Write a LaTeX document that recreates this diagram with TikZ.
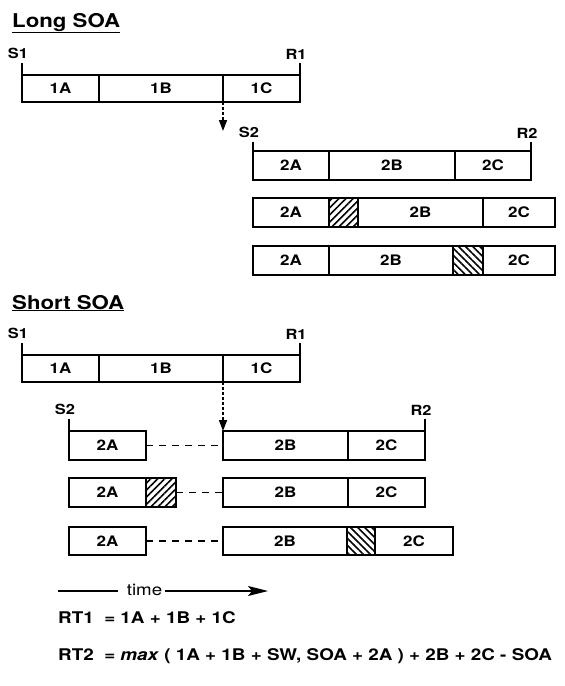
\documentclass[tikz,border=0pt]{standalone}
\usepackage{fontspec}
\setmainfont{TeX Gyre Heros}[FakeStretch=1.17]
\usetikzlibrary{positioning,arrows.meta,patterns.meta}

\tikzset{
  seg/.style={draw, rectangle, line width=1.8pt, inner sep=0pt, outer sep=0pt,
    minimum height=29pt, font=\fontsize{14.5}{16}\selectfont\bfseries},
  hatchup/.style={seg, pattern={Lines[angle=45,distance=5pt,line width=1.6pt]}},
  hatchdown/.style={seg, pattern={Lines[angle=-45,distance=5pt,line width=1.6pt]}},
  tickline/.style={line width=1.8pt},
  eventlabel/.style={above=3pt, xshift=-4pt, inner sep=0pt, font=\fontsize{14}{16}\selectfont\bfseries},
  headline/.style={anchor=base west, inner sep=0pt, font=\fontsize{19}{22}\selectfont\bfseries},
  waitline/.style={line width=1.6pt, dash pattern=on 7pt off 6pt},
  shiftarrow/.style={line width=1.6pt, dash pattern=on 3pt off 2pt, -{Triangle[length=11pt,width=8pt]}},
  formula/.style={anchor=base west, inner sep=0pt, font=\fontsize{16.1}{18}\selectfont\bfseries}
}

\begin{document}
\begin{tikzpicture}[x=1pt,y=-1pt]
  \useasboundingbox (0,0) rectangle (565,686);

  % long SOA
  \node[headline] (longsoa) at (12,27) {\underline{Long SOA}};
  \node[seg, anchor=west, minimum width=77pt, minimum height=27pt] (la1) at (22,88.5) {1A};
  \node[seg, right=0pt of la1, minimum width=124pt, minimum height=27pt] (la2) {1B};
  \node[seg, right=0pt of la2, minimum width=77pt, minimum height=27pt] (la3) {1C};
  \draw[tickline] (la1.north west) -- ++(0,-12) node[eventlabel] (ls1) {S1};
  \draw[tickline] (la3.north east) -- ++(0,-12) node[eventlabel] (lr1) {R1};

  \node[seg, anchor=west, minimum width=76pt] (lb1) at (253,165.5) {2A};
  \node[seg, right=0pt of lb1, minimum width=126pt] (lb2) {2B};
  \node[seg, right=0pt of lb2, minimum width=76pt] (lb3) {2C};
  \draw[tickline] (lb1.north west) -- ++(0,-9) node[eventlabel] (ls2) {S2};
  \draw[tickline] (lb3.north east) -- ++(0,-9) node[eventlabel] (lr2) {R2};

  \node[seg, anchor=west, minimum width=76pt] (lc1) at (253,212.5) {2A};
  \node[hatchup, right=0pt of lc1, minimum width=29pt] (lcsw) {};
  \node[seg, right=0pt of lcsw, minimum width=125pt] (lc2) {2B};
  \node[seg, right=0pt of lc2, minimum width=72pt] (lc3) {2C};

  \node[seg, anchor=west, minimum width=76pt] (ld1) at (253,260.5) {2A};
  \node[seg, right=0pt of ld1, minimum width=124pt] (ld2) {2B};
  \node[hatchdown, right=0pt of ld2, minimum width=30pt] (ldsw) {};
  \node[seg, right=0pt of ldsw, minimum width=72pt] (ld3) {2C};

  \coordinate (lend) at (223,131);
  \draw[shiftarrow] (la3.south west) -- (lend);

  % short SOA
  \node[headline] (shortsoa) at (12,309) {\underline{Short SOA}};
  \node[seg, anchor=west, minimum width=77pt, minimum height=27pt] (sa1) at (22,368.5) {1A};
  \node[seg, right=0pt of sa1, minimum width=124pt, minimum height=27pt] (sa2) {1B};
  \node[seg, right=0pt of sa2, minimum width=77pt, minimum height=27pt] (sa3) {1C};
  \draw[tickline] (sa1.north west) -- ++(0,-12) node[eventlabel] (ss1) {S1};
  \draw[tickline] (sa3.north east) -- ++(0,-12) node[eventlabel] (sr1) {R1};

  \node[seg, anchor=west, minimum width=77pt] (sb1) at (69,445.5) {2A};
  \node[seg, anchor=west, minimum width=125pt] (sb2) at (223,445.5) {2B};
  \node[seg, right=0pt of sb2, minimum width=77pt] (sb3) {2C};
  \draw[tickline] (sb1.north west) -- ++(0,-12) node[eventlabel] (ss2) {S2};
  \draw[tickline] (sb3.north east) -- ++(0,-12) node[eventlabel] (sr2) {R2};
  \draw[waitline] (sb1.east) -- (sb2.west);
  \draw[shiftarrow] (sa3.south west) -- (sb2.north west);

  \node[seg, anchor=west, minimum width=77pt] (sc1) at (69,492.5) {2A};
  \node[hatchup, right=0pt of sc1, minimum width=30pt] (scsw) {};
  \node[seg, anchor=west, minimum width=125pt] (sc2) at (223,492.5) {2B};
  \node[seg, right=0pt of sc2, minimum width=77pt] (sc3) {2C};
  \draw[waitline] (scsw.east) -- (sc2.west);

  \node[seg, anchor=west, minimum width=77pt, minimum height=28pt] (sd1) at (69,541) {2A};
  \node[seg, anchor=west, minimum width=124pt, minimum height=28pt] (sd2) at (223,541) {2B};
  \node[hatchdown, right=0pt of sd2, minimum width=28pt, minimum height=28pt] (sdsw) {};
  \node[seg, right=0pt of sdsw, minimum width=78pt, minimum height=28pt] (sd3) {2C};
  \draw[waitline] (sd1.east) -- (sd2.west);

  % time axis
  \node[font=\fontsize{16}{18}\selectfont, inner sep=0pt] (time) at (144.5,590) {time};
  \coordinate (tstart) at (58,591);
  \coordinate (tend) at (268,591);
  \draw[line width=1.4pt] (tstart) -- ([xshift=-9pt]time.west |- tstart);
  \draw[line width=1.4pt, -{Stealth[length=20pt,width=10pt,inset=4pt]}] ([xshift=3pt]time.east |- tend) -- (tend);

  % response times
  \node[formula] (rt1) at (58,623.5) {RT1\ \ = 1A + 1B + 1C};
  \node[formula] (rt2) at (58,660) {RT2\ \ = \textit{max} ( 1A + 1B + SW, SOA + 2A ) + 2B + 2C - SOA};
\end{tikzpicture}
\end{document}
